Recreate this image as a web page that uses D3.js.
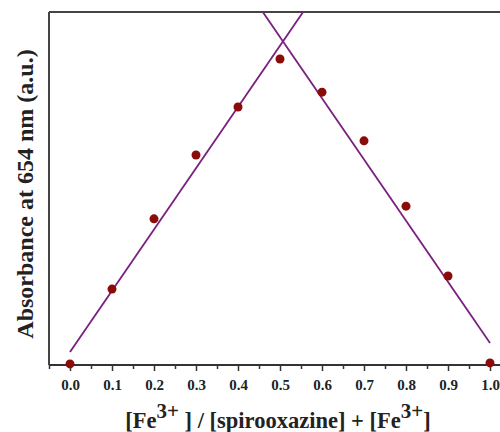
<!DOCTYPE html>
<html>
<head>
<meta charset="utf-8">
<script src="https://cdn.jsdelivr.net/npm/d3@7"></script>
<style>
  body { margin: 0; background: #fff; }
  svg { display: block; overflow: hidden; }
  .tick text { font-family: "Liberation Serif", "Times New Roman", serif; font-weight: bold; }
</style>
</head>
<body>
<svg class="svg_job" width="500" height="432"></svg>
<script>
// Job plot: absorbance vs mole fraction of Fe3+
var fractions = [0.0, 0.1, 0.2, 0.3, 0.4, 0.5, 0.6, 0.7, 0.8, 0.9, 1.0];
var absorbance = [0.003, 0.215, 0.414, 0.595, 0.731, 0.867, 0.773, 0.635, 0.450, 0.252, 0.006];

// linear fits (end points of each fitted line)
var leftFit = [[0.0, 0.037], [0.555, 1.0]];
var rightFit = [[0.459, 1.0], [1.0, 0.062]];

var xTicks = [0.0, 0.1, 0.2, 0.3, 0.4, 0.5, 0.6, 0.7, 0.8, 0.9, 1.0];
var xMinor = [-0.05, 0.05, 0.15, 0.25, 0.35, 0.45, 0.55, 0.65, 0.75, 0.85, 0.95, 1.05];

var svg = d3.select(".svg_job");

var x = d3.scaleLinear().domain([-0.05, 1.05]).range([49, 511]),
    y = d3.scaleLinear().domain([0, 1]).range([365, 12]);

svg.append("clipPath").attr("id", "plotclip")
  .append("rect")
    .attr("x", x(-0.05)).attr("y", y(1))
    .attr("width", x(1.05) - x(-0.05)).attr("height", y(0) - y(1));

// frame (top and left)
svg.append("line")
    .attr("x1", x(-0.05)).attr("y1", y(1)).attr("x2", x(1.05)).attr("y2", y(1))
    .attr("stroke", "#444").attr("stroke-width", 2);
svg.append("line")
    .attr("x1", x(-0.05)).attr("y1", y(1)).attr("x2", x(-0.05)).attr("y2", y(0))
    .attr("stroke", "#444").attr("stroke-width", 2);

// minor ticks
var minorAxis = svg.append("g")
    .attr("transform", "translate(0," + y(0) + ")")
    .call(d3.axisBottom(x).tickValues(xMinor).tickSize(4).tickFormat(""));
minorAxis.select(".domain").remove();
minorAxis.selectAll("line").attr("stroke", "#333").attr("stroke-width", 1.5);

// x axis
var xAxis = svg.append("g")
    .attr("transform", "translate(0," + y(0) + ")")
    .call(d3.axisBottom(x).tickValues(xTicks).tickSize(6).tickPadding(8).tickFormat(d3.format(".1f")));
xAxis.select(".domain").attr("stroke", "#333").attr("stroke-width", 2).attr("d", "M" + x(-0.05) + ",0H" + x(1.05));
xAxis.selectAll("line").attr("stroke", "#333").attr("stroke-width", 1.5);
xAxis.selectAll("text").attr("font-size", 15).attr("fill", "#222");

// fitted lines
var line = d3.line().x(function(d) { return x(d[0]); }).y(function(d) { return y(d[1]); });
[leftFit, rightFit].forEach(function(fit) {
  svg.append("path")
      .datum(fit)
      .attr("clip-path", "url(#plotclip)")
      .attr("d", line)
      .attr("fill", "none")
      .attr("stroke", "#7a1f80")
      .attr("stroke-width", 1.8);
});

// data points
svg.selectAll(".dot")
  .data(fractions)
  .enter().append("circle")
    .attr("class", "dot")
    .attr("cx", function(d) { return x(d); })
    .attr("cy", function(d, i) { return y(absorbance[i]); })
    .attr("r", 4.5)
    .attr("fill", "#8b0a0a");

// y label
svg.append("text")
    .attr("transform", "translate(25,194) rotate(-90)")
    .attr("text-anchor", "middle")
    .attr("dominant-baseline", "central")
    .attr("font-family", "Liberation Serif, Times New Roman, serif")
    .attr("font-weight", "bold")
    .attr("font-size", 24)
    .attr("fill", "#222")
    .text("Absorbance at 654 nm (a.u.)");

// x label
var xl = svg.append("text")
    .attr("x", 278)
    .attr("y", 428)
    .attr("text-anchor", "middle")
    .attr("font-family", "Liberation Serif, Times New Roman, serif")
    .attr("font-weight", "bold")
    .attr("font-size", 22.5)
    .attr("fill", "#222");
xl.append("tspan").text("[Fe");
xl.append("tspan").attr("dy", -10).attr("font-size", 21).text("3+");
xl.append("tspan").attr("dy", 10).text(" ] / [spirooxazine] + [Fe");
xl.append("tspan").attr("dy", -10).attr("font-size", 21).text("3+");
xl.append("tspan").attr("dy", 10).text("]");
</script>
</body>
</html>
